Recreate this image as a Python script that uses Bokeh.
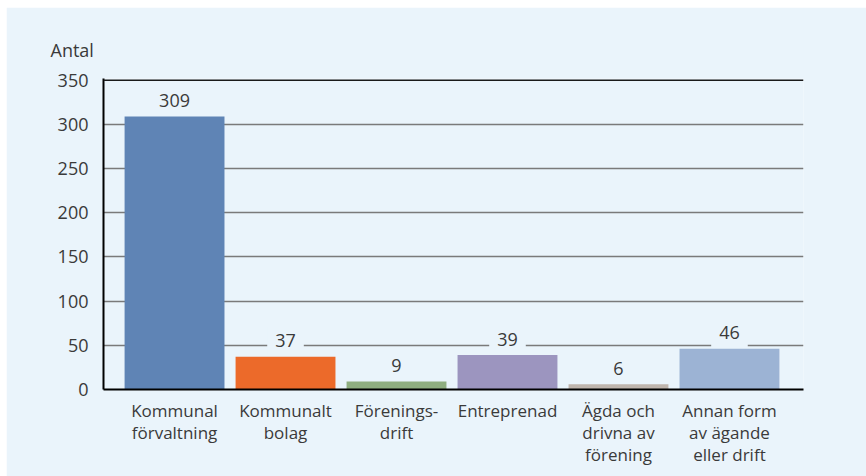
from bokeh.plotting import figure
from bokeh.models import Range1d, FixedTicker, ColumnDataSource, Span, Title, Spacer
from bokeh.layouts import row, column
from bokeh.core.properties import value
from bokeh.embed import file_html
from bokeh.resources import INLINE

categories = ["Kommunal\nförvaltning", "Kommunalt\nbolag", "Förenings-\ndrift",
              "Entreprenad", "Ägda och\ndrivna av\nförening", "Annan form\nav ägande\neller drift"]
values = [309, 37, 9, 39, 6, 46]
colors = ["#5F84B5", "#EC6A2A", "#8FAE80", "#9C95BF", "#BFB5AD", "#9CB3D4"]
y_ticks = [0, 50, 100, 150, 200, 250, 300, 350]
y_label = "Antal"

BG = "#EAF4FB"
FONT = "Open Sans"
TXT = "#3a3a3a"

xs = list(range(len(categories)))
src = ColumnDataSource(dict(x=xs, top=values, color=colors, label=[str(v) for v in values]))

p = figure(width=860, height=469, output_backend="svg", toolbar_location=None,
           x_range=Range1d(-0.64, 5.667), y_range=Range1d(0, 352),
           min_border_left=97, min_border_right=63, min_border_top=71, min_border_bottom=87,
           background_fill_color=BG, border_fill_color=BG, outline_line_color=None)

p.vbar(x="x", top="top", width=0.9, bottom=0, color="color", source=src, line_color=None)

p.text(x="x", y="top", text="label", source=src, text_align="center", text_baseline="middle",
       y_offset=-16, text_font=value(FONT), text_font_size="18px", text_color=TXT,
       background_fill_color=BG, padding=8)

p.add_layout(Span(location=350, dimension="width", line_color="#1a1a1a", line_width=1.5))

p.xgrid.grid_line_color = None
p.ygrid.ticker = FixedTicker(ticks=y_ticks[:-1])
p.ygrid.grid_line_color = "#7a7a7a"
p.ygrid.grid_line_width = 1.5

p.yaxis.ticker = FixedTicker(ticks=y_ticks)
p.yaxis.axis_line_color = "black"
p.yaxis.axis_line_width = 2
p.yaxis.major_tick_line_color = None
p.yaxis.minor_tick_line_color = None
p.yaxis.major_label_standoff = 9
p.yaxis.major_label_text_font = FONT
p.yaxis.major_label_text_font_size = "18px"
p.yaxis.major_label_text_color = TXT

p.xaxis.ticker = FixedTicker(ticks=xs)
p.xaxis.major_label_overrides = {i: c for i, c in zip(xs, categories)}
p.xaxis.axis_line_color = "black"
p.xaxis.axis_line_width = 2
p.xaxis.major_tick_line_color = None
p.xaxis.minor_tick_line_color = None
p.xaxis.major_label_standoff = 3
p.xaxis.major_label_text_font = FONT
p.xaxis.major_label_text_font_size = "17px"
p.xaxis.major_label_text_color = TXT
p.xaxis.major_label_text_line_height = 0.97

t = Title(text=y_label, align="left", offset=-53, standoff=34,
          text_font=FONT, text_font_size="18px", text_font_style="normal", text_color=TXT)
p.add_layout(t, "above")

layout = row(Spacer(width=6), column(Spacer(height=7), p))

open("out.html", "w").write(file_html(layout, INLINE))
